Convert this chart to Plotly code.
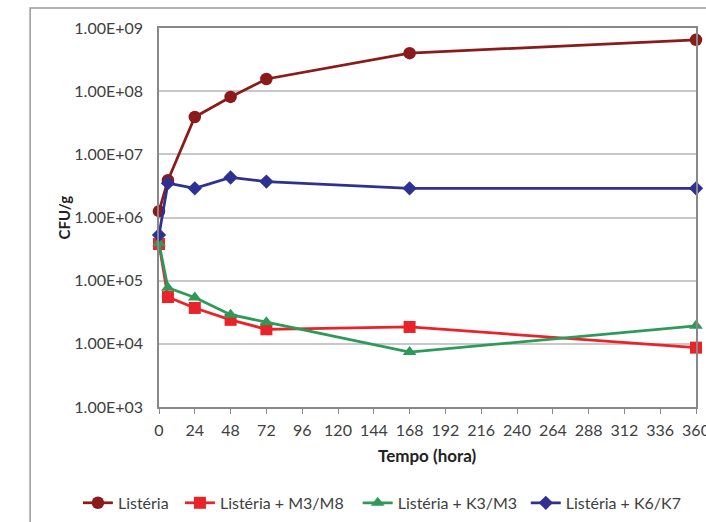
import plotly.graph_objects as go

hours = [0, 6, 24, 48, 72, 168, 360]
listeria = [1.26e6, 3.9e6, 3.9e7, 8.1e7, 1.56e8, 4.0e8, 6.5e8]
listeria_m3m8 = [3.8e5, 5.5e4, 3.7e4, 2.4e4, 1.7e4, 1.85e4, 8.7e3]
listeria_k3m3 = [3.9e5, 7.7e4, 5.4e4, 2.9e4, 2.2e4, 7.4e3, 1.93e4]
listeria_k6k7 = [5.3e5, 3.5e6, 2.9e6, 4.3e6, 3.7e6, 2.9e6, 2.9e6]

y_tickvals = [1e3, 1e4, 1e5, 1e6, 1e7, 1e8, 1e9]
y_ticktext = ["1.00E+03", "1.00E+04", "1.00E+05", "1.00E+06", "1.00E+07", "1.00E+08", "1.00E+09"]
x_tickvals = list(range(0, 361, 24))

series = [
    ("Listéria", listeria, "#8b1a1a", "circle", 12.5),
    ("Listéria + M3/M8", listeria_m3m8, "#e8232a", "square", 12),
    ("Listéria + K3/M3", listeria_k3m3, "#2e9a5a", "triangle-up", 12),
    ("Listéria + K6/K7", listeria_k6k7, "#2e3192", "diamond", 11),
]
legend_ids = ["legend", "legend2", "legend3", "legend4"]
legend_x = [-0.151, 0.039, 0.370, 0.683]

FONT = "Lato"
fig = go.Figure()
for (name, vals, color, sym, size), lid in zip(series, legend_ids):
    fig.add_trace(go.Scatter(
        x=hours, y=vals, name=name, mode="lines+markers",
        line=dict(color=color, width=2.75),
        marker=dict(symbol=sym, size=size, color=color),
        cliponaxis=False, legend=lid,
    ))

legend_common = dict(orientation="h", xanchor="left", y=-0.253, yanchor="middle",
                     font=dict(size=16, color="#404040"), bgcolor="rgba(0,0,0,0)")
legends = {lid: dict(legend_common, x=lx) for lid, lx in zip(legend_ids, legend_x)}

fig.update_layout(
    width=706, height=522,
    margin=dict(l=159, r=10, t=28, b=115, autoexpand=False),
    paper_bgcolor="white", plot_bgcolor="white",
    font=dict(family=FONT, size=16, color="#404040"),
    showlegend=True,
    **legends,
    xaxis=dict(range=[0, 360], tickvals=x_tickvals, ticks="outside", ticklen=5,
               tickcolor="#888888", showline=True, linecolor="#888888", linewidth=1.5,
               mirror=True, showgrid=False, zeroline=False, ticklabelstandoff=3,
               automargin=False, ticklabeloverflow="allow"),
    yaxis=dict(type="log", range=[3, 9], tickvals=y_tickvals, ticktext=y_ticktext,
               showgrid=True, gridcolor="#c8c8c8", gridwidth=1.5, ticks="",
               showline=True, linecolor="#888888", linewidth=1.5, mirror=True,
               zeroline=False, ticklabelstandoff=11, automargin=False),
    annotations=[
        dict(text="<b>Tempo (hora)</b>", xref="paper", yref="paper", x=0.5, y=-0.127,
             showarrow=False, font=dict(size=17, color="#222222", family=FONT),
             xanchor="center", yanchor="middle"),
        dict(text="<b>CFU/g</b>", xref="paper", yref="paper", x=-0.177, y=0.5,
             showarrow=False, textangle=-90, font=dict(size=15, color="#222222", family=FONT),
             xanchor="center", yanchor="middle"),
    ],
    shapes=[
        dict(type="rect", xref="paper", yref="paper", x0=-0.240, x1=1.2, y0=-0.5, y1=1.0528,
             line=dict(color="#999999", width=1.5), fillcolor="rgba(0,0,0,0)", layer="below"),
    ],
)

fig.write_html("out.html", config={"displayModeBar": False},
               post_script="document.body.style.margin='0';")
